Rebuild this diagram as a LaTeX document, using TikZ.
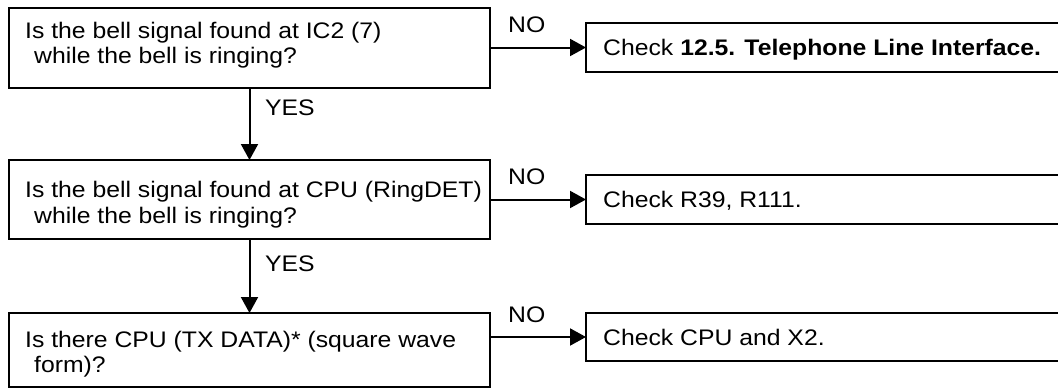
\documentclass[tikz,border=0pt]{standalone}
\usepackage{fontspec}
\setmainfont{Liberation Sans}[FakeStretch=1.10]
\usetikzlibrary{arrows.meta}
\tikzset{
  box/.style={draw, line width=2pt, inner sep=0pt, rectangle},
  txt/.style={inner sep=0pt, anchor=base west, font=\fontsize{22.5}{26}\selectfont},
  conn/.style={line width=2pt, -{Triangle[length=16pt,width=17pt]}, shorten >=-1pt},
}
\begin{document}
\begin{tikzpicture}[x=1pt,y=-1pt]
\path[use as bounding box, clip] (0,0) rectangle (1058,388);
% left question boxes
\node[box, minimum width=481pt, minimum height=80pt] (q1) at (249.5,48) {};
\node[box, minimum width=481pt, minimum height=79pt] (q2) at (249.5,199.5) {};
\node[box, minimum width=481pt, minimum height=74pt] (q3) at (249.5,350) {};
% right action boxes
\node[box, minimum width=484pt, minimum height=49pt] (a1) at (828,47.5) {};
\node[box, minimum width=484pt, minimum height=49pt] (a2) at (828,199.5) {};
\node[box, minimum width=484pt, minimum height=48pt] (a3) at (828,337) {};
% texts
\node[txt] (q1l1) at (25,38) {Is the bell signal found at IC2 (7)};
\node[txt] (q1l2) at (34,63) {while the bell is ringing?};
\node[txt] (q2l1) at (25,197) {Is the bell signal found at CPU (RingDET)};
\node[txt] (q2l2) at (34,223) {while the bell is ringing?};
\node[txt] (q3l1) at (25,347) {Is there CPU (TX DATA)* (square wave};
\node[txt] (q3l2) at (34,372) {form)?};
\node[txt] (a1t) at (603,55.5) {Check \textbf{12.5. Telephone Line Interface.}};
\node[txt] (a2t) at (603,207.5) {Check R39, R111.};
\node[txt] (a3t) at (603,345) {Check CPU and X2.};
% connectors
\draw[conn] (q1.south) -- (q2.north);
\draw[conn] (q2.south) -- (q3.north);
\draw[conn] (a1.west -| q1.east) -- (a1.west);
\draw[conn] (a2.west -| q2.east) -- (a2.west);
\draw[conn] (a3.west -| q3.east) -- (a3.west);
% labels
\node[txt] (yes1) at (265,115) {YES};
\node[txt] (yes2) at (265,271) {YES};
\node[txt] (no1) at (508,32) {NO};
\node[txt] (no2) at (508,184) {NO};
\node[txt] (no3) at (508,322) {NO};
\end{tikzpicture}
\end{document}
